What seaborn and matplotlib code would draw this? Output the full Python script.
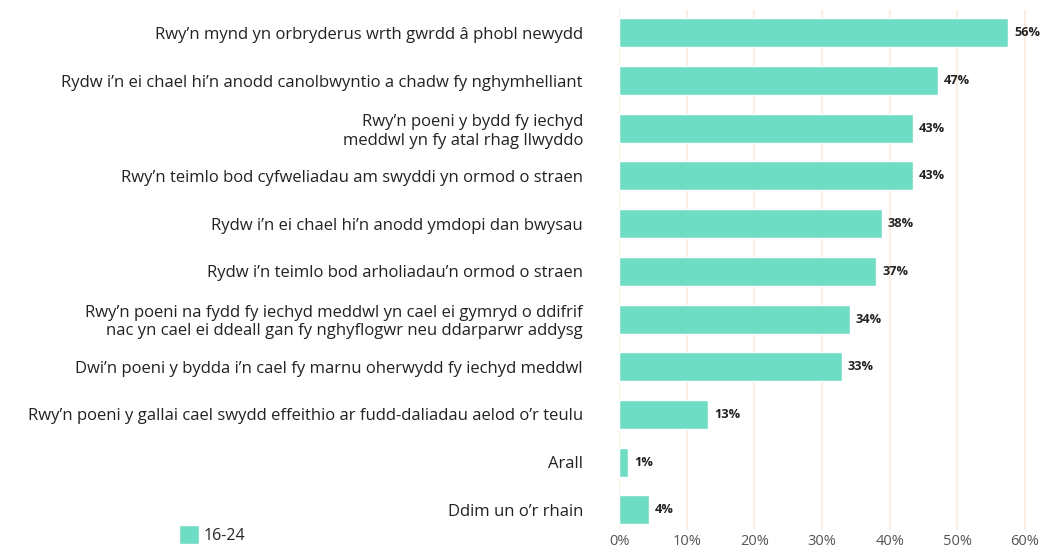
import pandas as pd
import matplotlib.pyplot as plt
import seaborn as sns

# data
categories = [
    "Rwy’n mynd yn orbryderus wrth gwrdd â phobl newydd",
    "Rydw i’n ei chael hi’n anodd canolbwyntio a chadw fy nghymhelliant",
    "Rwy’n poeni y bydd fy iechyd\nmeddwl yn fy atal rhag llwyddo",
    "Rwy’n teimlo bod cyfweliadau am swyddi yn ormod o straen",
    "Rydw i’n ei chael hi’n anodd ymdopi dan bwysau",
    "Rydw i’n teimlo bod arholiadau’n ormod o straen",
    "Rwy’n poeni na fydd fy iechyd meddwl yn cael ei gymryd o ddifrif\nnac yn cael ei ddeall gan fy nghyflogwr neu ddarparwr addysg",
    "Dwi’n poeni y bydda i’n cael fy marnu oherwydd fy iechyd meddwl",
    "Rwy’n poeni y gallai cael swydd effeithio ar fudd-daliadau aelod o’r teulu",
    "Arall",
    "Ddim un o’r rhain",
]
values = [57.5, 47.1, 43.4, 43.4, 38.8, 38.0, 34.1, 32.9, 13.1, 1.3, 4.4]
value_labels = ["56%", "47%", "43%", "43%", "38%", "37%", "34%", "33%", "13%", "1%", "4%"]
group = "16-24"
xticks = [0, 10, 20, 30, 40, 50, 60]

df = pd.DataFrame({"category": categories, "value": values, "group": group})

sns.set_style("white")
plt.rcParams["font.family"] = ["Open Sans", "DejaVu Sans"]

fig = plt.figure(figsize=(10.43, 5.52), dpi=100)
ax = fig.add_axes([0.5935, 0.04, 0.399, 0.942])

sns.barplot(data=df, x="value", y="category", hue="group",
            palette=["#6fdcc4"], saturation=1, width=0.61, ax=ax, zorder=3)

# bar value labels
for i, (v, lab) in enumerate(zip(values, value_labels)):
    ax.text(v + 0.9, i, lab, va="center", ha="left", fontsize=9.2,
            fontweight="bold", color="#222222")

ax.set_xlim(0, 61.5)
ax.set_ylim(10.42, -0.48)
ax.set_xticks(xticks)
ax.set_xticklabels([f"{t}%" for t in xticks], fontsize=10.5, color="#555555")
ax.tick_params(axis="x", length=0, pad=3)
ax.tick_params(axis="y", length=0, pad=26)
ax.set_yticks(range(len(categories)))
ax.set_yticklabels(categories, fontsize=12, color="#222222", ha="right")
ax.set_xlabel("")
ax.set_ylabel("")
ax.grid(axis="x", color="#fbeee2", linewidth=1.5, zorder=0)
ax.grid(axis="y", visible=False)
for s in ax.spines.values():
    s.set_visible(False)

leg = ax.legend(loc="lower left", bbox_to_anchor=(0.164, 0.0),
                bbox_transform=fig.transFigure, frameon=False,
                fontsize=11.5, handlelength=1.25, handleheight=1.4,
                handletextpad=0.3, borderpad=0)

fig.savefig("out.png", dpi=100)
